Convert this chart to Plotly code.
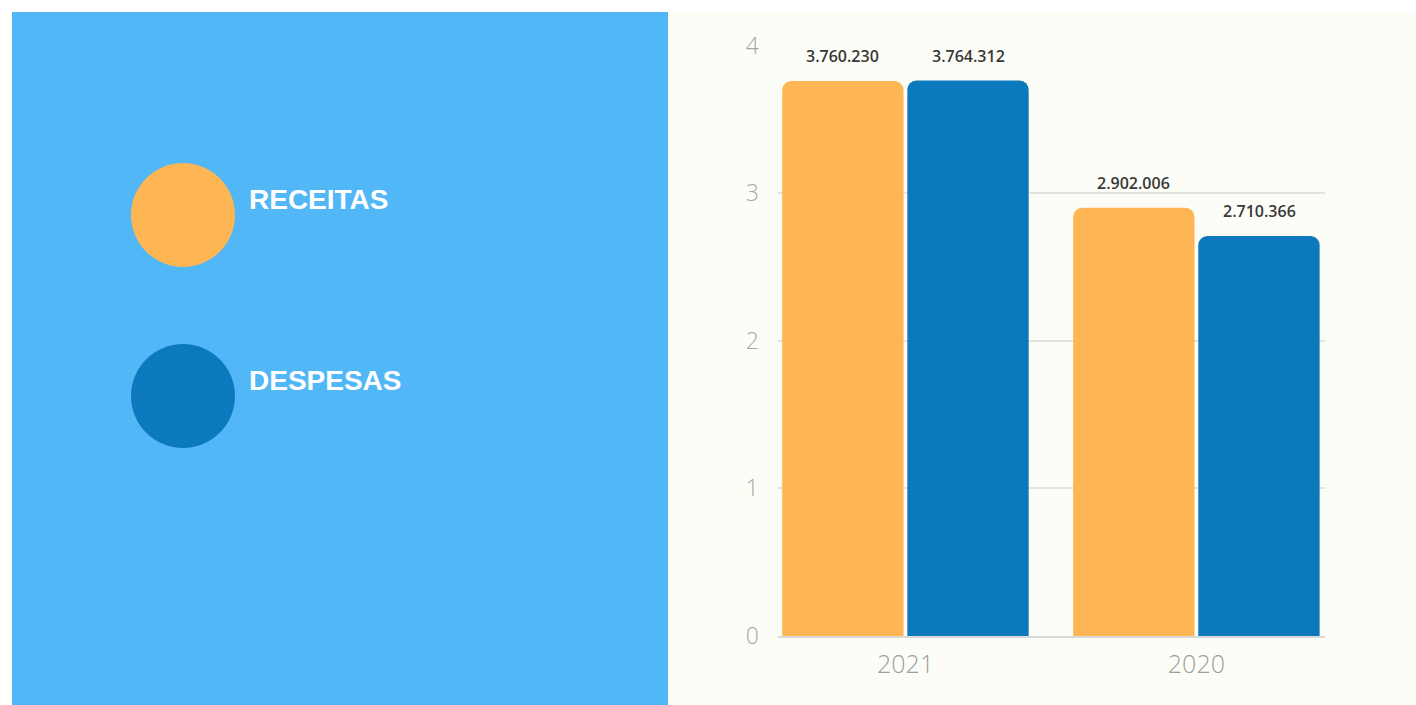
import plotly.graph_objects as go

# ---- data ----
categories = ["2021", "2020"]
series_names = ["RECEITAS", "DESPESAS"]
receitas = [3760230, 2902006]
despesas = [3764312, 2710366]
y_ticks = [0, 1, 2, 3, 4]

# ---- styles ----
W, H = 1416, 705
ORANGE = "#FDB653"
DARKBLUE = "#0D79BD"
PANEL_BLUE = "#51B7F7"
RIGHT_BG = "#FDFDF7"

def px_x(v):
    return v / W

def px_y(v):
    return 1 - v / H

def fmt(v):
    return f"{v:,}".replace(",", ".")

fig = go.Figure()
for name, vals, col in [(series_names[0], receitas, ORANGE), (series_names[1], despesas, DARKBLUE)]:
    fig.add_trace(go.Bar(
        x=categories, y=[v / 1e6 for v in vals], name=name,
        marker=dict(color=col, line=dict(width=0)),
        showlegend=False, hoverinfo="skip",
    ))

annotations = []
for vals, shift in [(receitas, -63), (despesas, 63)]:
    for i, v in enumerate(vals):
        annotations.append(dict(
            x=i, y=v / 1e6, xref="x", yref="y", text=fmt(v), showarrow=False,
            xshift=shift, yshift=25, yanchor="middle",
            font=dict(family="Open Sans", size=16, color="#383838", weight=600),
        ))

# custom legend on left panel
leg_y = [215, 396]
for name, cy in zip(series_names, leg_y):
    annotations.append(dict(
        x=px_x(247), y=px_y(cy - 16), xref="paper", yref="paper", text=name,
        showarrow=False, xanchor="left", yanchor="middle",
        font=dict(family="Liberation Sans", size=28, color="white", weight=700),
    ))

shapes = [
    dict(type="rect", xref="paper", yref="paper", x0=px_x(12), x1=px_x(668),
         y0=0, y1=px_y(12), fillcolor=PANEL_BLUE, line=dict(width=0), layer="below"),
    dict(type="rect", xref="paper", yref="paper", x0=px_x(668), x1=1,
         y0=0, y1=px_y(12), fillcolor=RIGHT_BG, line=dict(width=0), layer="below"),
]
for col, cy in zip([ORANGE, DARKBLUE], leg_y):
    shapes.append(dict(type="circle", xref="paper", yref="paper",
                       x0=px_x(131), x1=px_x(235), y0=px_y(cy + 52), y1=px_y(cy - 52),
                       fillcolor=col, line=dict(width=0), layer="above"))

fig.update_layout(
    autosize=True,
    margin=dict(l=0, r=0, t=0, b=0, autoexpand=False),
    paper_bgcolor="white",
    plot_bgcolor="rgba(0,0,0,0)",
    barmode="group",
    bargap=0.14,
    bargroupgap=0.03,
    barcornerradius=9,
    shapes=shapes,
    annotations=annotations,
    xaxis=dict(
        domain=[px_x(778), px_x(1325)],
        range=[-0.438, 1.442],
        automargin=False,
        showgrid=False, showline=True, linecolor="#D9D9D9", linewidth=1.5,
        ticks="", ticklabelstandoff=5,
        tickfont=dict(family="Open Sans", size=25, color="#9E9E9E", weight=300),
    ),
    yaxis=dict(
        domain=[1 - 636 / H, 1 - 45 / H],
        range=[0, 4.005],
        tickvals=y_ticks,
        automargin=False,
        showgrid=True, gridcolor="#E2E2E2", gridwidth=1.5,
        zeroline=False, showline=False,
        ticks="", ticklabelstandoff=18,
        tickfont=dict(family="Open Sans", size=23, color="#A6A6A6", weight=300),
    ),
)

fig.write_html(
    "out.html",
    default_width="100vw",
    default_height="100vh",
    config={"displayModeBar": False},
    post_script="document.body.style.margin='0';document.body.style.overflow='hidden';",
)
